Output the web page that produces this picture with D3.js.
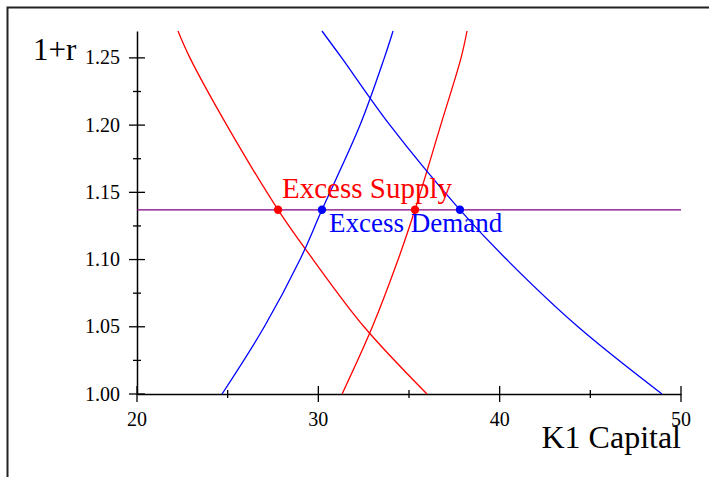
<!DOCTYPE html>
<html>
<head>
<meta charset="utf-8">
<script src="https://cdn.jsdelivr.net/npm/d3@7"></script>
<style>
  html, body { margin: 0; padding: 0; background: #fff; }
  svg { display: block; font-family: "Liberation Serif", "Times New Roman", serif; }
</style>
</head>
<body>
<svg id="chart" width="709" height="477"></svg>
<script>
// Gross interest rate levels (1+r) at which each curve was sampled
const rLevels = [1.00, 1.05, 1.10, 1.137, 1.20, 1.25, 1.27];

// Capital K1 on each curve at the rate levels above
const supplyFalling = [35.99, 32.52, 29.71, 27.78, 24.95, 22.92, 22.26];
const demandRising  = [24.69, 27.02, 28.99, 30.20, 32.30, 33.64, 34.12];
const supplyRising  = [31.31, 32.98, 34.40, 35.33, 36.75, 37.87, 38.20];
const demandFalling = [48.95, 44.32, 40.39, 37.81, 33.95, 31.29, 30.20];

// Prevailing rate and the capital levels where the curves meet it
const rateLine = 1.137;
const supplyPoints = [27.78, 35.33];
const demandPoints = [30.20, 37.81];

const xTicks = [20, 30, 40, 50];
const xMinor = [25, 35, 45];
const yTicks = [1.00, 1.05, 1.10, 1.15, 1.20, 1.25];
const yMinor = [1.025, 1.075, 1.125, 1.175, 1.225];

const svg = d3.select("#chart");

// outer frame (top and left edges)
svg.append("path")
  .attr("d", "M7.5,477 L7.5,7.5 L709,7.5")
  .attr("fill", "none").attr("stroke", "#222").attr("stroke-width", 2);

const x = d3.scaleLinear().domain([20, 50]).range([137, 681]);
const y = d3.scaleLinear().domain([1.00, 1.27]).range([394, 31]);

// axes
const xAxis = svg.append("g").attr("transform", `translate(0,${y(1)})`);
xAxis.call(d3.axisBottom(x).tickValues(xTicks).tickSize(0).tickFormat(""));
xAxis.select(".domain").attr("stroke", "#000").attr("stroke-width", 1.5);
xAxis.selectAll(".major").data(xTicks).join("line")
  .attr("x1", d => x(d)).attr("x2", d => x(d)).attr("y1", -8).attr("y2", 8)
  .attr("stroke", "#000").attr("stroke-width", 1.3);
xAxis.selectAll(".minor").data(xMinor).join("line")
  .attr("x1", d => x(d)).attr("x2", d => x(d)).attr("y1", -4).attr("y2", 4)
  .attr("stroke", "#000").attr("stroke-width", 1.3);
svg.selectAll(".xlab").data(xTicks).join("text")
  .attr("x", d => x(d)).attr("y", 426)
  .attr("text-anchor", "middle").attr("font-size", 20)
  .text(d => d);

const yAxis = svg.append("g").attr("transform", `translate(${x(20)},0)`);
yAxis.call(d3.axisLeft(y).tickValues(yTicks).tickSize(0).tickFormat(""));
yAxis.select(".domain").attr("stroke", "#000").attr("stroke-width", 1.5);
yAxis.selectAll(".major").data(yTicks).join("line")
  .attr("y1", d => y(d)).attr("y2", d => y(d)).attr("x1", -8).attr("x2", 8)
  .attr("stroke", "#000").attr("stroke-width", 1.3);
yAxis.selectAll(".minor").data(yMinor).join("line")
  .attr("y1", d => y(d)).attr("y2", d => y(d)).attr("x1", -4).attr("x2", 4)
  .attr("stroke", "#000").attr("stroke-width", 1.3);
svg.selectAll(".ylab").data(yTicks).join("text")
  .attr("x", 120).attr("y", d => y(d)).attr("dy", "0.33em")
  .attr("text-anchor", "end").attr("font-size", 20)
  .text(d => d.toFixed(2));

// axis titles
svg.append("text").attr("x", 33).attr("y", 60).attr("font-size", 31).text("1+r");
svg.append("text").attr("x", 681).attr("y", 448).attr("text-anchor", "end")
  .attr("font-size", 32).text("K1 Capital");

// curves: capital as a function of the rate
const line = d3.line()
  .x(d => x(d.k)).y(d => y(d.r))
  .curve(d3.curveCatmullRom);

const curves = [
  { values: supplyFalling, color: "#ff0000" },
  { values: demandRising,  color: "#0000ff" },
  { values: supplyRising,  color: "#ff0000" },
  { values: demandFalling, color: "#0000ff" }
];
curves.forEach(c => {
  const pts = rLevels.map((r, i) => ({ r, k: c.values[i] }));
  svg.append("path").datum(pts)
    .attr("d", line)
    .attr("fill", "none").attr("stroke", c.color).attr("stroke-width", 1.3);
});

// prevailing rate
svg.append("line")
  .attr("x1", x(20)).attr("x2", x(50))
  .attr("y1", y(rateLine)).attr("y2", y(rateLine))
  .attr("stroke", "#800080").attr("stroke-width", 1.3);

svg.selectAll(".sdot").data(supplyPoints).join("circle")
  .attr("cx", d => x(d)).attr("cy", y(rateLine)).attr("r", 4.2).attr("fill", "#ff0000");
svg.selectAll(".ddot").data(demandPoints).join("circle")
  .attr("cx", d => x(d)).attr("cy", y(rateLine)).attr("r", 4.2).attr("fill", "#0000ff");

svg.append("text").attr("x", 282).attr("y", 198).attr("font-size", 29)
  .attr("fill", "#ff0000").text("Excess Supply");
svg.append("text").attr("x", 329).attr("y", 232).attr("font-size", 27)
  .attr("fill", "#0000ff").text("Excess Demand");
</script>
</body>
</html>
